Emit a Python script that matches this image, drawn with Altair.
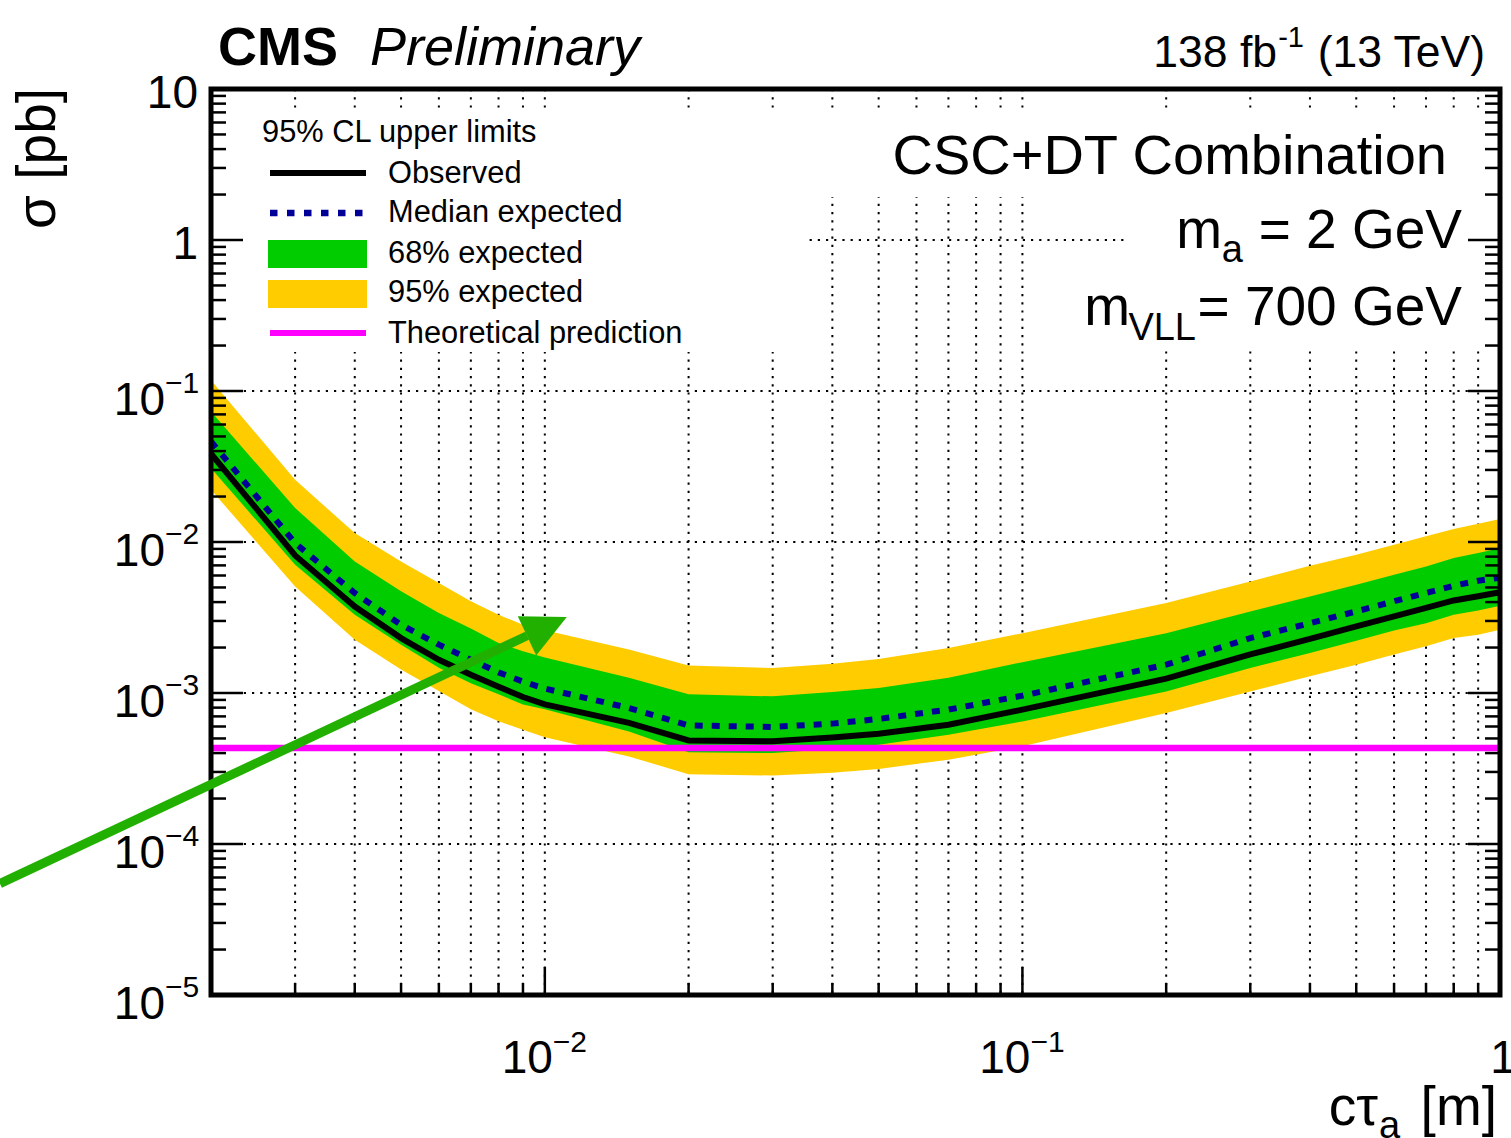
import altair as alt
import pandas as pd

# ---------------------------------------------------------------- data
# c*tau_a [m] scan points and 95% CL upper limits on sigma [pb]
ctau = [0.002, 0.003, 0.004, 0.005, 0.006, 0.007, 0.008, 0.009, 0.01, 0.015,
        0.02, 0.03, 0.04, 0.05, 0.07, 0.1, 0.2, 0.3, 0.4, 0.5, 0.6, 0.7, 0.8,
        0.9, 1.0]
observed = [0.0384, 0.00815, 0.00374, 0.00231, 0.00166, 0.00132, 0.00110,
            0.00094, 0.00084, 0.000634, 0.000485, 0.000479, 0.000508,
            0.000538, 0.000616, 0.000776, 0.001245, 0.0018, 0.00228, 0.00276,
            0.00322, 0.00366, 0.0041, 0.00437, 0.00465]
expected = [0.0463, 0.00984, 0.00459, 0.00283, 0.00209, 0.00166, 0.00137,
            0.00119, 0.00107, 0.000796, 0.00061, 0.000596, 0.000627,
            0.000673, 0.000776, 0.00096, 0.00154, 0.00231, 0.0029, 0.00347,
            0.00405, 0.00459, 0.00513, 0.00554, 0.0058]
exp_minus1 = [0.0308, 0.00706, 0.0033, 0.00209, 0.00147, 0.00116, 0.00098,
              0.00084, 0.00078, 0.000557, 0.000405, 0.0004, 0.000426,
              0.000455, 0.00053, 0.000648, 0.001025, 0.001465, 0.00184,
              0.00222, 0.00259, 0.0029, 0.0033, 0.00352, 0.00378]
exp_plus1 = [0.0731, 0.0168, 0.00743, 0.00471, 0.00339, 0.00267, 0.00214,
             0.00189, 0.00172, 0.00126, 0.00098, 0.00095, 0.001016, 0.00108,
             0.00126, 0.0016, 0.00249, 0.00347, 0.00436, 0.00521, 0.00607,
             0.00689, 0.00784, 0.00845, 0.0091]
exp_minus2 = [0.0222, 0.00508, 0.00225, 0.00143, 0.00103, 0.00078, 0.00065,
              0.00057, 0.00051, 0.00038, 0.00029, 0.000284, 0.000296,
              0.000314, 0.000362, 0.000444, 0.000738, 0.001025, 0.00129,
              0.00154, 0.0018, 0.00204, 0.00231, 0.00243, 0.00262]
exp_plus2 = [0.118, 0.0258, 0.01146, 0.00743, 0.00535, 0.00405, 0.0033,
             0.00283, 0.0026, 0.00194, 0.00152, 0.001465, 0.00156, 0.00168,
             0.001986, 0.00249, 0.00394, 0.00548, 0.00697, 0.00824, 0.0096,
             0.0109, 0.0122, 0.0132, 0.0142]

# theoretical cross section for m_a = 2 GeV, m_VLL = 700 GeV
theory_ctau = [0.002, 1.0]
theory_xsec = [4.33e-4, 4.33e-4]

# highlight arrow (data coordinates): shaft start/end and head centre
arrow_ctau = [0.000723, 0.00918]
arrow_xsec = [5.47e-5, 0.002395]
arrow_head_ctau = [0.0101]
arrow_head_xsec = [0.002758]

# axis ticks
x_major = [0.01, 0.1]
x_minor = [m * 10.0 ** e for e in (-3, -2, -1) for m in range(2, 10)
           if 0.002 < m * 10.0 ** e < 1.0]
y_major = [1e-4, 1e-3, 1e-2, 1e-1, 1.0]
y_minor = [m * 10.0 ** e for e in range(-5, 1) for m in range(2, 10)]
y_plain_vals = [10.0, 1.0]
y_plain_text = ["10", "1"]
y_exp_vals = [1e-1, 1e-2, 1e-3, 1e-4, 1e-5]
y_exp_text = ["\u22121", "\u22122", "\u22123", "\u22124", "\u22125"]
x_exp_vals = [0.01, 0.1]
x_exp_text = ["\u22122", "\u22121"]

# ---------------------------------------------------------------- styling
W, H = 1289, 906
FONT = "Liberation Sans"
YELLOW, GREEN, BLUE, MAGENTA = "#ffcc00", "#00cc00", "#000099", "#ff00ff"
ARROW = "#22b000"

xs = alt.Scale(type="log", domain=[0.002, 1.0], nice=False)
ys = alt.Scale(type="log", domain=[1e-5, 10.0], nice=False)

limits = pd.DataFrame({
    "ctau": ctau, "obs": observed, "exp": expected,
    "m1": exp_minus1, "p1": exp_plus1, "m2": exp_minus2, "p2": exp_plus2,
})
theory = pd.DataFrame({"ctau": theory_ctau, "xsec": theory_xsec})
arrow = pd.DataFrame({"ctau": arrow_ctau, "xsec": arrow_xsec})
arrow_head = pd.DataFrame({"ctau": arrow_head_ctau, "xsec": arrow_head_xsec})
one = alt.Data(values=[{"k": 0}])


def X(field="ctau"):
    return alt.X(f"{field}:Q", scale=xs, axis=None)


def Y(field):
    return alt.Y(f"{field}:Q", scale=ys, axis=None)


def vals(values):
    return pd.DataFrame({"v": values})


# grid
grid_x = alt.Chart(vals(x_major + x_minor)).mark_rule(
    color="black", strokeWidth=2, strokeDash=[2.2, 6]
).encode(x=X("v"), y=alt.value(0), y2=alt.value(H))
grid_y = alt.Chart(vals(y_major)).mark_rule(
    color="black", strokeWidth=2, strokeDash=[2.2, 6]
).encode(y=Y("v"), x=alt.value(0), x2=alt.value(W))


def white_box(x0, x1, y0, y1):
    return alt.Chart(one).mark_rect(color="white").encode(
        x=alt.value(x0), x2=alt.value(x1), y=alt.value(y0), y2=alt.value(y1))


boxes = [white_box(1, 597, 21, 263), white_box(597, 1285, 21, 108),
         white_box(916, 1285, 108, 260)]

# limit bands and lines
band2 = alt.Chart(limits).mark_area(color=YELLOW, opacity=1).encode(
    x=X(), y=Y("p2"), y2="m2")
band1 = alt.Chart(limits).mark_area(color=GREEN, opacity=1).encode(
    x=X(), y=Y("p1"), y2="m1")
exp_line = alt.Chart(limits).mark_line(
    color=BLUE, strokeWidth=6, strokeDash=[8, 9]).encode(x=X(), y=Y("exp"))
obs_line = alt.Chart(limits).mark_line(
    color="black", strokeWidth=6).encode(x=X(), y=Y("obs"))
theo_line = alt.Chart(theory).mark_line(
    color=MAGENTA, strokeWidth=6.5).encode(x=X(), y=Y("xsec"))

# ticks
def yticks(values, length):
    left = alt.Chart(vals(values)).mark_rule(color="black", strokeWidth=2.5).encode(
        y=Y("v"), x=alt.value(0), x2=alt.value(length))
    right = alt.Chart(vals(values)).mark_rule(color="black", strokeWidth=2.5).encode(
        y=Y("v"), x=alt.value(W - length), x2=alt.value(W))
    return [left, right]


def xticks(values, length):
    return alt.Chart(vals(values)).mark_rule(color="black", strokeWidth=2.5).encode(
        x=X("v"), y=alt.value(H - length), y2=alt.value(H))


ticks = yticks(y_minor, 15) + yticks(y_major, 32) + [xticks(x_minor, 12),
                                                     xticks(x_major, 28)]

frame = alt.Chart(one).mark_rect(
    fillOpacity=0, stroke="black", strokeWidth=5
).encode(x=alt.value(0), x2=alt.value(W), y=alt.value(0), y2=alt.value(H))

# tick labels
ylab_plain = alt.Chart(pd.DataFrame({"v": y_plain_vals, "t": y_plain_text})).mark_text(
    font=FONT, fontSize=46, align="right", baseline="alphabetic", dy=18.5
).encode(y=Y("v"), x=alt.value(-13), text="t:N")
ylab_base = alt.Chart(vals(y_exp_vals)).mark_text(
    font=FONT, fontSize=46, align="right", baseline="alphabetic", dy=23.5, text="10"
).encode(y=Y("v"), x=alt.value(-46))
ylab_exp = alt.Chart(pd.DataFrame({"v": y_exp_vals, "t": y_exp_text})).mark_text(
    font=FONT, fontSize=30, align="left", baseline="alphabetic", dy=2
).encode(y=Y("v"), x=alt.value(-46), text="t:N")
xlab_base = alt.Chart(vals(x_exp_vals)).mark_text(
    font=FONT, fontSize=46, align="right", baseline="alphabetic", dx=8, text="10"
).encode(x=X("v"), y=alt.value(984))
xlab_exp = alt.Chart(pd.DataFrame({"v": x_exp_vals, "t": x_exp_text})).mark_text(
    font=FONT, fontSize=30, align="left", baseline="alphabetic", dx=8
).encode(x=X("v"), y=alt.value(963), text="t:N")
xlab_one = alt.Chart(vals([1.0])).mark_text(
    font=FONT, fontSize=46, align="center", baseline="alphabetic", dx=3, text="1"
).encode(x=X("v"), y=alt.value(984))


def label(text, x, y, size, align="left", weight="normal", style="normal", angle=0):
    return alt.Chart(one).mark_text(
        text=text, font=FONT, fontSize=size, align=align, baseline="alphabetic",
        fontWeight=weight, fontStyle=style, angle=angle, color="black"
    ).encode(x=alt.value(x), y=alt.value(y))


texts = [
    # axis titles
    label("\u03c3 [pb]", -156, -1, 55, align="right", angle=270),
    label("c\u03c4", 1167, 1036, 55, align="right"),
    label("a", 1168, 1049, 38),
    label("[m]", 1286, 1036, 55, align="right"),
    # header
    label("CMS", 7, -24, 54, weight="bold"),
    label("Preliminary", 159, -24, 54, style="italic"),
    label("138 fb", 1066, -22, 44.5, align="right"),
    label("-1", 1093, -42, 29, align="right"),
    label("(13 TeV)", 1274, -22, 44.5, align="right"),
    # plot annotations
    label("CSC+DT Combination", 1236, 85, 56, align="right"),
    label("m", 1011, 159, 55, align="right"),
    label("a", 1032, 173, 38, align="right"),
    label("= 2 GeV", 1251, 159, 55, align="right"),
    label("m", 919, 236, 55, align="right"),
    label("VLL", 985, 251, 38, align="right"),
    label("= 700 GeV", 1251, 236, 55, align="right"),
    # legend text
    label("95% CL upper limits", 51, 53, 30.8),
    label("Observed", 177, 94, 30.8),
    label("Median expected", 177, 133, 30.8),
    label("68% expected", 177, 174, 30.8),
    label("95% expected", 177, 213, 30.8),
    label("Theoretical prediction", 177, 254, 30.8),
]


def legend_line(y, color, width, dash=None):
    kw = dict(color=color, strokeWidth=width)
    if dash:
        kw["strokeDash"] = dash
    return alt.Chart(one).mark_rule(**kw).encode(
        x=alt.value(59), x2=alt.value(155), y=alt.value(y))


def legend_box(y0, y1, color):
    return alt.Chart(one).mark_rect(color=color).encode(
        x=alt.value(57), x2=alt.value(156), y=alt.value(y0), y2=alt.value(y1))


legend = [
    legend_line(84, "black", 6),
    legend_line(124, BLUE, 6.5, [7.5, 9.5]),
    legend_box(151, 179, GREEN),
    legend_box(191, 219, YELLOW),
    legend_line(244, MAGENTA, 6),
]

# highlight arrow
arrow_shaft = alt.Chart(arrow).mark_line(
    color=ARROW, strokeWidth=9, strokeCap="butt").encode(x=X(), y=Y("xsec"))
arrow_tip = alt.Chart(arrow_head).mark_point(
    shape="M0,-1L-0.986,1L0.986,1Z", size=1936, angle=64.8, filled=True,
    opacity=1, color=ARROW, strokeWidth=0
).encode(x=X(), y=Y("xsec"))

chart = alt.layer(
    grid_x, grid_y, *boxes, band2, band1, theo_line, exp_line, obs_line,
    *ticks, frame, ylab_plain, ylab_base, ylab_exp, xlab_base, xlab_exp,
    xlab_one, *texts, *legend, arrow_shaft, arrow_tip,
).properties(
    width=W, height=H,
    autosize=alt.AutoSizeParams(type="none"),
    padding={"left": 211, "top": 89, "right": 11, "bottom": 143},
    background="white",
).configure_view(strokeWidth=0)

chart.save("out.html", embed_options={"renderer": "svg", "actions": False})
